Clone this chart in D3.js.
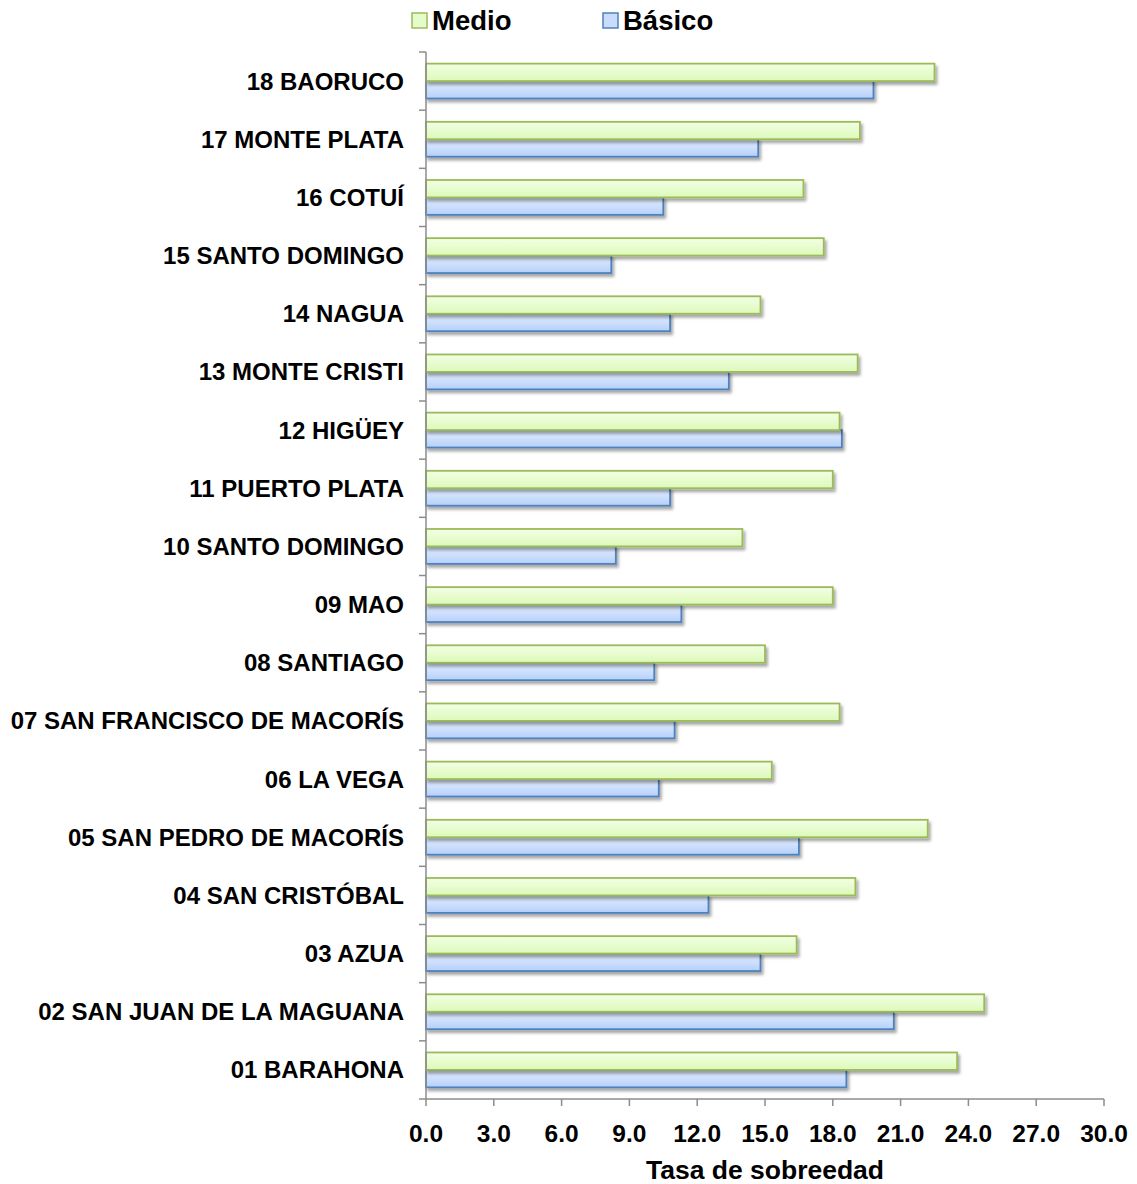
<!DOCTYPE html>
<html>
<head>
<meta charset="utf-8">
<script src="https://cdn.jsdelivr.net/npm/d3@7"></script>
<style>
  html, body { margin: 0; padding: 0; background: #fff; }
  svg { display: block; font-family: "Liberation Sans", Arial, sans-serif; }
</style>
</head>
<body>
<svg id="chart" width="1137" height="1184"></svg>
<script>
// ---- data (bottom to top as listed in the chart: 01 ... 18) ----
const categories = [
  "01 BARAHONA", "02 SAN JUAN DE LA MAGUANA", "03 AZUA", "04 SAN CRISTÓBAL",
  "05 SAN PEDRO DE MACORÍS", "06 LA VEGA", "07 SAN FRANCISCO DE MACORÍS",
  "08 SANTIAGO", "09 MAO", "10 SANTO DOMINGO", "11 PUERTO PLATA", "12 HIGÜEY",
  "13 MONTE CRISTI", "14 NAGUA", "15 SANTO DOMINGO", "16 COTUÍ",
  "17 MONTE PLATA", "18 BAORUCO"
];
const medio  = [23.5, 24.7, 16.4, 19.0, 22.2, 15.3, 18.3, 15.0, 18.0, 14.0, 18.0, 18.3, 19.1, 14.8, 17.6, 16.7, 19.2, 22.5];
const basico = [18.6, 20.7, 14.8, 12.5, 16.5, 10.3, 11.0, 10.1, 11.3, 8.4, 10.8, 18.4, 13.4, 10.8, 8.2, 10.5, 14.7, 19.8];
const seriesNames = ["Medio", "Básico"];
const xTicks = [0, 3, 6, 9, 12, 15, 18, 21, 24, 27, 30];
const xTitle = "Tasa de sobreedad";

// ---- layout ----
const svg = d3.select("#chart");
const mLeft = 426, mRight = 1104, mTop = 52, mBottom = 1099;
const axisColor = "#8c8c8c";

const x = d3.scaleLinear().domain([0, 30]).range([mLeft, mRight]);
const y = d3.scaleBand().domain(categories.slice().reverse()).range([mTop, mBottom])
  .paddingInner(0.4).paddingOuter(0.2);
const ySub = d3.scaleBand().domain(seriesNames).range([0, y.bandwidth()]);

// ---- defs: gradients and shadow ----
const defs = svg.append("defs");
const gG = defs.append("linearGradient").attr("id", "gradG").attr("x1", 0).attr("y1", 0).attr("x2", 0).attr("y2", 1);
gG.append("stop").attr("offset", "0%").attr("stop-color", "#f3ffe6");
gG.append("stop").attr("offset", "100%").attr("stop-color", "#dcf9b8");
const gB = defs.append("linearGradient").attr("id", "gradB").attr("x1", 0).attr("y1", 0).attr("x2", 0).attr("y2", 1);
gB.append("stop").attr("offset", "0%").attr("stop-color", "#e3eeff");
gB.append("stop").attr("offset", "100%").attr("stop-color", "#b6d0fa");
const f = defs.append("filter").attr("id", "shadow").attr("x", "-5%").attr("y", "-30%").attr("width", "115%").attr("height", "180%");
f.append("feDropShadow").attr("dx", 2).attr("dy", 3).attr("stdDeviation", 1.8)
  .attr("flood-color", "#000").attr("flood-opacity", 0.35);

const styles = {
  "Medio":  { fill: "url(#gradG)", stroke: "#9bbb59", legendFill: "#e6fbcc" },
  "Básico": { fill: "url(#gradB)", stroke: "#4f81bd", legendFill: "#c9dcfb" }
};

// ---- bars ----
const rows = categories.map((c, i) => ({ cat: c, Medio: medio[i], "Básico": basico[i] }));
const barsG = svg.append("g");
seriesNames.slice().reverse().forEach(s => {
  const cls = s === "Medio" ? "m" : "b";
  barsG.selectAll("rect." + cls)
    .data(rows)
    .join("rect")
    .attr("class", cls)
    .attr("x", x(0))
    .attr("y", d => y(d.cat) + ySub(s))
    .attr("width", d => x(d[s]) - x(0))
    .attr("height", ySub.bandwidth())
    .attr("fill", styles[s].fill)
    .attr("stroke", styles[s].stroke)
    .attr("stroke-width", 1.8)
    .attr("filter", "url(#shadow)");
});

// ---- y axis ----
const yAxisG = svg.append("g");
yAxisG.append("line").attr("x1", mLeft).attr("x2", mLeft).attr("y1", mTop).attr("y2", mBottom)
  .attr("stroke", axisColor).attr("stroke-width", 1.5);
const boundaries = d3.range(categories.length + 1).map(i => mTop + i * (mBottom - mTop) / categories.length);
yAxisG.selectAll("line.t").data(boundaries).join("line").attr("class", "t")
  .attr("x1", mLeft - 7).attr("x2", mLeft).attr("y1", d => d).attr("y2", d => d)
  .attr("stroke", axisColor).attr("stroke-width", 1.5);
yAxisG.selectAll("text").data(categories).join("text")
  .attr("x", 404).attr("y", d => y(d) + y.bandwidth() / 2 + 8.5)
  .attr("text-anchor", "end")
  .attr("font-size", 24).attr("font-weight", "bold").attr("fill", "#000")
  .text(d => d);

// ---- x axis ----
const xAxisG = svg.append("g");
xAxisG.append("line").attr("x1", mLeft).attr("x2", mRight).attr("y1", mBottom).attr("y2", mBottom)
  .attr("stroke", axisColor).attr("stroke-width", 1.5);
xAxisG.selectAll("line.t").data(xTicks).join("line").attr("class", "t")
  .attr("x1", d => x(d)).attr("x2", d => x(d)).attr("y1", mBottom).attr("y2", mBottom + 7)
  .attr("stroke", axisColor).attr("stroke-width", 1.5);
xAxisG.selectAll("text").data(xTicks).join("text")
  .attr("x", d => x(d)).attr("y", 1142)
  .attr("text-anchor", "middle")
  .attr("font-size", 24.5).attr("font-weight", "bold").attr("fill", "#000")
  .text(d => d3.format(".1f")(d));
svg.append("text").attr("x", (mLeft + mRight) / 2).attr("y", 1179)
  .attr("text-anchor", "middle").attr("font-size", 26.5).attr("font-weight", "bold")
  .text(xTitle);

// ---- legend ----
const legendPos = [{ s: "Medio", x: 412 }, { s: "Básico", x: 603 }];
const lg = svg.append("g");
legendPos.forEach(p => {
  lg.append("rect").attr("x", p.x).attr("y", 13).attr("width", 15).attr("height", 15)
    .attr("fill", styles[p.s].legendFill).attr("stroke", styles[p.s].stroke).attr("stroke-width", 1.5);
  lg.append("text").attr("x", p.x + 20).attr("y", 30)
    .attr("font-size", 27.5).attr("font-weight", "bold").text(p.s);
});
</script>
</body>
</html>
